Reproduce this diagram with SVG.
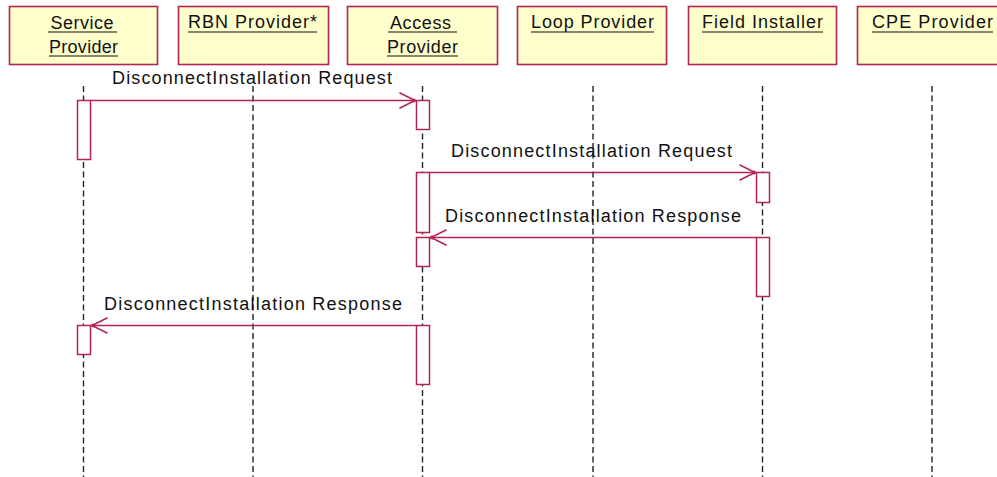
<svg xmlns="http://www.w3.org/2000/svg" width="997" height="477" viewBox="0 0 997 477">
<defs>
<style>
.box{fill:#FFFFCC;stroke:#B3244F;stroke-width:1.6}
.name{font-family:"Liberation Sans",Arial,sans-serif;font-size:18px;fill:#111;text-anchor:middle}
.ul{stroke:#111;stroke-width:1.2}
.life{stroke:#222;stroke-width:1.4;stroke-dasharray:6 3.5;fill:none}
.act{fill:#fff;stroke:#B3244F;stroke-width:1.5}
.msg{stroke:#B3244F;stroke-width:1.4;fill:none}
.lbl{font-family:"Liberation Sans",Arial,sans-serif;font-size:18px;fill:#111}
</style>
<marker id="arr" markerUnits="userSpaceOnUse" markerWidth="20" markerHeight="20" viewBox="-16 -9 18 18" refX="0" refY="0" orient="auto">
<path d="M-14,-7 L0,0 L-14,7" fill="none" stroke="#B3244F" stroke-width="1.4"/>
<circle cx="-1" cy="0" r="1.8" fill="#B3244F"/>
</marker>
</defs>
<rect width="997" height="477" fill="#fff"/>

<g id="lifelines">
<line class="life" x1="83.5" y1="86" x2="83.5" y2="477"/>
<line class="life" x1="253" y1="86" x2="253" y2="477"/>
<line class="life" x1="422.5" y1="86" x2="422.5" y2="477"/>
<line class="life" x1="593" y1="86" x2="593" y2="477"/>
<line class="life" x1="762.5" y1="86" x2="762.5" y2="477"/>
<line class="life" x1="932" y1="86" x2="932" y2="477"/>
</g>

<g id="service-provider">
<rect class="box" x="9.5" y="6.5" width="148" height="58"/>
<text class="name" x="82" y="29" textLength="63" lengthAdjust="spacing">Service</text>
<text class="name" x="83.5" y="53" textLength="69" lengthAdjust="spacing">Provider</text>
<line class="ul" x1="48" y1="32" x2="117" y2="32"/>
<line class="ul" x1="49" y1="56" x2="118" y2="56"/>
</g>
<g id="rbn-provider">
<rect class="box" x="178.5" y="6.5" width="150" height="58"/>
<text class="name" x="252.5" y="28" textLength="129" lengthAdjust="spacing">RBN Provider*</text>
<line class="ul" x1="188" y1="32" x2="317" y2="32"/>
</g>
<g id="access-provider">
<rect class="box" x="347.5" y="6.5" width="150" height="58"/>
<text class="name" x="420.5" y="29" textLength="61" lengthAdjust="spacing">Access</text>
<line class="ul" x1="388" y1="32" x2="457" y2="32"/>
<text class="name" x="422.5" y="53" textLength="71" lengthAdjust="spacing">Provider</text>
<line class="ul" x1="387" y1="56" x2="458" y2="56"/>
</g>
<g id="loop-provider">
<rect class="box" x="517.5" y="6.5" width="149" height="58"/>
<text class="name" x="592.5" y="28" textLength="123" lengthAdjust="spacing">Loop Provider</text>
<line class="ul" x1="531" y1="32" x2="654" y2="32"/>
</g>
<g id="field-installer">
<rect class="box" x="688.5" y="6.5" width="148" height="58"/>
<text class="name" x="762.5" y="28" textLength="121" lengthAdjust="spacing">Field Installer</text>
<line class="ul" x1="702" y1="32" x2="823" y2="32"/>
</g>
<g id="cpe-provider">
<rect class="box" x="857.5" y="6.5" width="150" height="58"/>
<text class="name" x="932.5" y="28" textLength="121" lengthAdjust="spacing">CPE Provider</text>
<line class="ul" x1="872" y1="32" x2="993" y2="32"/>
</g>

<g id="activations">
<rect class="act" x="77.5" y="100.5" width="13" height="59"/>
<rect class="act" x="416.5" y="100.5" width="13" height="29"/>
<rect class="act" x="416.5" y="172.5" width="13" height="60"/>
<rect class="act" x="756.5" y="172.5" width="13" height="30"/>
<rect class="act" x="416.5" y="237.5" width="13" height="29"/>
<rect class="act" x="756.5" y="237.5" width="13" height="59"/>
<rect class="act" x="77.5" y="325.5" width="13" height="29"/>
<rect class="act" x="416.5" y="325.5" width="13" height="59"/>
</g>

<g id="connectors">
<line class="msg" x1="90.5" y1="100.5" x2="415" y2="100.5" marker-end="url(#arr)"/>
<text class="lbl" x="112" y="84" textLength="280" lengthAdjust="spacing">DisconnectInstallation Request</text>
<line class="msg" x1="429.5" y1="172.5" x2="755" y2="172.5" marker-end="url(#arr)"/>
<text class="lbl" x="451" y="157" textLength="281" lengthAdjust="spacing">DisconnectInstallation Request</text>
<line class="msg" x1="756.5" y1="237.5" x2="431" y2="237.5" marker-end="url(#arr)"/>
<text class="lbl" x="445" y="222" textLength="296" lengthAdjust="spacing">DisconnectInstallation Response</text>
<line class="msg" x1="416.5" y1="325.5" x2="92" y2="325.5" marker-end="url(#arr)"/>
<text class="lbl" x="104" y="310" textLength="298" lengthAdjust="spacing">DisconnectInstallation Response</text>
</g>
</svg>
